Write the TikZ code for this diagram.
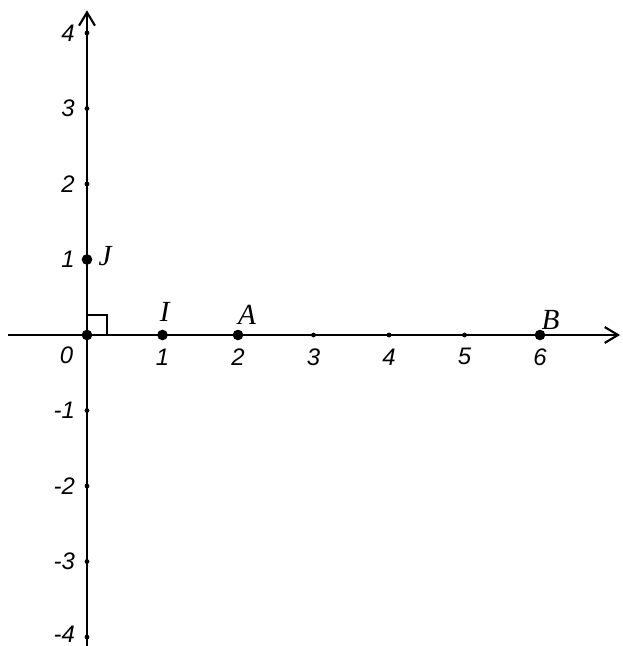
\documentclass[tikz,border=0pt]{standalone}
\usepackage{fontspec}
\setmainfont{Liberation Serif}
\newfontfamily\numfont{Liberation Sans}
\usetikzlibrary{arrows.meta}
\begin{document}
\begin{tikzpicture}[x=1cm,y=1cm,
  axis/.style={line width=0.8pt, -{Straight Barb[length=5pt,width=6pt]}},
  num/.style={font=\numfont\itshape\fontsize{9}{10}\selectfont, inner sep=1pt},
  ptlabel/.style={font=\itshape\fontsize{11}{12}\selectfont, inner sep=1pt},
  pt/.style={circle, fill=black, inner sep=0pt, minimum size=4pt},
  tick/.style={circle, fill=black, inner sep=0pt, minimum size=1.8pt}]
\useasboundingbox (-1.152,-4.119) rectangle (7.086,4.437);
\coordinate (xl) at (-1.05,0);
\coordinate (xr) at (7.06,0);
\coordinate (yb) at (0,-4.119);
\coordinate (yt) at (0,4.30);
\draw[axis] (xl) -- (xr);
\draw[axis] (yb) -- (yt);
% right angle mark
\draw[line width=0.8pt] (0,0.27) -- (0.27,0.27) -- (0.27,0);
% ticks
\foreach \i in {3,4,5} \node[tick] (tx\i) at (\i,0) {};
\foreach \j/\n in {2/p2,3/p3,4/p4,-1/m1,-2/m2,-3/m3,-4/m4} \node[tick] (ty\n) at (0,\j) {};
% points
\node[pt] (O) at (0,0) {};
\node[pt] (I) at (1,0) {};
\node[pt] (A) at (2,0) {};
\node[pt] (B) at (6,0) {};
\node[pt] (J) at (0,1) {};
% point labels
\node[ptlabel] (lI) at (1.03,0.31) {I};
\node[ptlabel] (lA) at (2.12,0.27) {A};
\node[ptlabel] (lB) at (6.14,0.20) {B};
\node[ptlabel] (lJ) at (0.24,1.05) {J};
% x numbers
\node[num] (n0) at (-0.27,-0.27) {0};
\foreach \i in {1,...,6} \node[num] (nx\i) at (\i,-0.29) {\i};
% y numbers
\foreach \j in {1,2,3,4} \node[num] (ny\j) at (-0.25,\j) {\j};
\foreach \j in {1,2,3} \node[num] (nym\j) at (-0.30,-\j) {-\j};
\node[num] (nym4) at (-0.30,-3.97) {-4};
\end{tikzpicture}
\end{document}
